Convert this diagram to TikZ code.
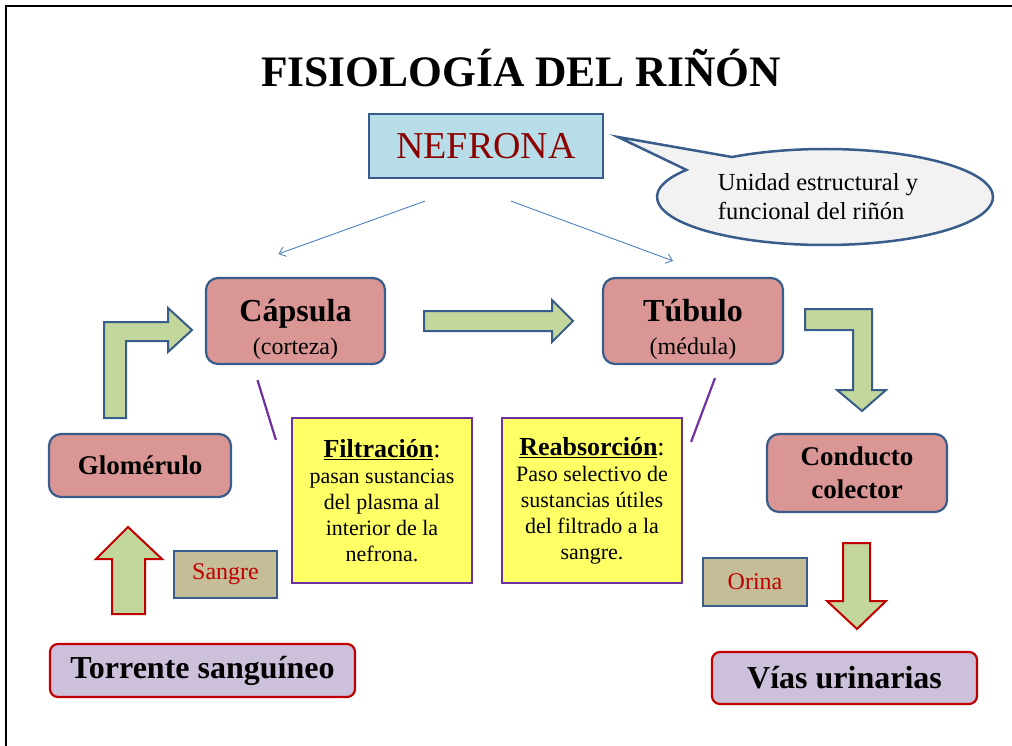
\documentclass[tikz,border=0pt]{standalone}
\usepackage{fontspec}
\setmainfont{Liberation Serif}
\usetikzlibrary{arrows.meta,shapes.callouts}
\definecolor{FrameBlue}{RGB}{56, 93, 138}
\definecolor{OrganPink}{RGB}{217, 150, 148}
\definecolor{ArrowGreen}{RGB}{195, 214, 155}
\definecolor{NoteYellow}{RGB}{255, 255, 102}
\definecolor{LinkPurple}{RGB}{112, 48, 160}
\definecolor{TagTan}{RGB}{196, 189, 151}
\definecolor{FlowRed}{RGB}{192, 0, 0}
\definecolor{EndLilac}{RGB}{204, 192, 218}
\definecolor{NefBlue}{RGB}{183, 222, 232}
\definecolor{NefText}{RGB}{140, 0, 0}
\definecolor{ThinBlue}{RGB}{79, 129, 189}

\begin{document}
\begin{tikzpicture}[x=1pt, y=-1pt, >={Straight Barb[length=6pt,width=10pt]},
  organ/.style={draw=FrameBlue, line width=2.2pt, rounded corners=12pt, fill=OrganPink,
                align=center, inner sep=2pt, font=\bfseries\fontsize{27}{33}\selectfont},
  info/.style={draw=LinkPurple, line width=2.2pt, fill=NoteYellow, align=center, inner sep=2pt,
               minimum width=180pt, minimum height=165pt, font=\fontsize{22}{26}\selectfont},
  tag/.style={draw=FrameBlue, line width=2pt, fill=TagTan, text=FlowRed, inner sep=2pt,
              font=\fontsize{24}{28}\selectfont},
  ends/.style={draw=FlowRed, line width=2.2pt, rounded corners=8pt, fill=EndLilac,
               inner sep=2pt, font=\bfseries\fontsize{32}{36}\selectfont},
  garrow/.style={draw=FrameBlue, line width=2pt, fill=ArrowGreen, line join=miter},
  rarrow/.style={draw=FlowRed, line width=2pt, fill=ArrowGreen, line join=miter},
  thinsig/.style={->, draw=ThinBlue, line width=0.9pt},
  link/.style={draw=LinkPurple, line width=2.2pt}]

  \useasboundingbox (0,0) rectangle (1012,746);
  \draw[line width=2.5pt] (6,746) -- (6,6) -- (1012,6);

  \node[anchor=base, font=\bfseries\fontsize{43.5}{48}\selectfont] (title) at (521,87) {FISIOLOGÍA DEL RIÑÓN};

  \node[draw=FrameBlue, line width=2.2pt, fill=NefBlue, text=NefText, minimum width=234pt,
        minimum height=64pt, font=\fontsize{38}{40}\selectfont] (nef) at (486,146) {NEFRONA};
  \node[ellipse callout, draw=FrameBlue, line width=2.5pt, fill=black!5, align=left,
        minimum width=336pt, minimum height=96pt, inner sep=0pt,
        callout absolute pointer={(618,137)}, callout pointer arc=22,
        font=\fontsize{24.5}{29}\selectfont] (unit) at (825,197) {Unidad estructural y\hspace*{14pt}\\funcional del riñón};

  \node[organ, minimum width=179pt, minimum height=86pt] (cap) at (295.5,321)
    {\rule{0pt}{40pt}\fontsize{32}{32}\selectfont Cápsula\\{\mdseries\fontsize{24}{30}\selectfont (corteza)}};
  \node[organ, minimum width=180pt, minimum height=86pt] (tub) at (693,321)
    {\rule{0pt}{40pt}\fontsize{32}{32}\selectfont Túbulo\\{\mdseries\fontsize{24}{30}\selectfont (médula)}};
  \node[organ, minimum width=182pt, minimum height=63pt] (glo) at (140,465.5) {Glomérulo};
  \node[organ, minimum width=180pt, minimum height=78pt] (con) at (857,473) {Conducto\\colector};

  \node[info] (fil) at (382,500.5)
    {{\fontsize{26}{26}\selectfont\underline{\textbf{Filtración}}:}\\pasan sustancias\\del plasma al\\interior de la\\nefrona.};
  \node[info] (rea) at (592,500.5)
    {{\fontsize{26}{26}\selectfont\underline{\textbf{Reabsorción}}:}\\Paso selectivo de\\sustancias útiles\\del filtrado a la\\sangre.};

  \node[tag, minimum width=103pt, minimum height=47pt] (san) at (225.5,574.5) {Sangre};
  \node[tag, minimum width=104pt, minimum height=48pt] (ori) at (755,582) {Orina};

  \node[ends, minimum width=305pt, minimum height=53pt] (tor) at (202.5,670.5) {Torrente sanguíneo};
  \node[ends, minimum width=265pt, minimum height=52pt] (via) at (844.5,678) {Vías urinarias};

  \draw[thinsig] ([xshift=-61pt,yshift=-22pt]nef.south) -- ([xshift=-17pt,yshift=23pt]cap.north);
  \draw[thinsig] ([xshift=25pt,yshift=-22pt]nef.south) -- ([xshift=-20pt,yshift=16pt]tub.north);

  \draw[link] ([xshift=-38pt,yshift=-15pt]cap.south) -- ([xshift=-15pt,yshift=-23pt]fil.north west);
  \draw[link] ([xshift=22pt,yshift=-13pt]tub.south) -- ([xshift=8pt,yshift=-25pt]rea.north east);

  \draw[garrow] (104,418) -- (104,322) -- (168,322) -- (168,308) -- (192,330)
    -- (168,352) -- (168,341) -- (126,341) -- (126,418) -- cycle;
  \draw[garrow] (424,311) -- (552,311) -- (552,300) -- (573,321) -- (552,342)
    -- (552,331) -- (424,331) -- cycle;
  \draw[garrow] (805,309) -- (872,309) -- (872,390) -- (886,390) -- (862,411)
    -- (837,390) -- (853,390) -- (853,330) -- (805,330) -- cycle;
  \draw[rarrow] (112,614) -- (112,559) -- (96,559) -- (128,527) -- (162,559)
    -- (145,559) -- (145,614) -- cycle;
  \draw[rarrow] (843,543) -- (870,543) -- (870,601) -- (886,601) -- (857,629)
    -- (827,601) -- (843,601) -- cycle;
\end{tikzpicture}
\end{document}
